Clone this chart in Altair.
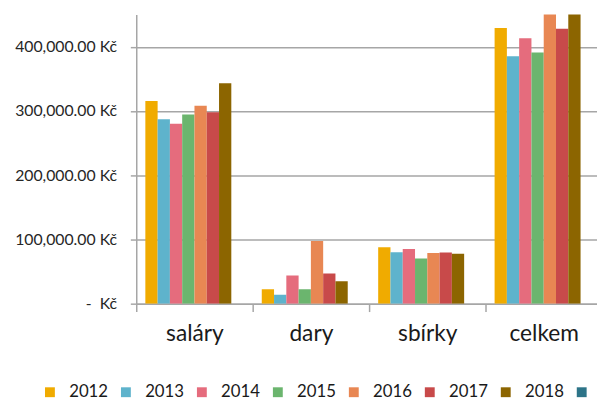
import altair as alt
import pandas as pd

categories = ["saláry", "dary", "sbírky", "celkem"]
years = ["2012", "2013", "2014", "2015", "2016", "2017", "2018"]
legend_domain = years + ["2019"]

v2012 = [315500, 22500, 88000, 429000]
v2013 = [287000, 13800, 80000, 385000]
v2014 = [280000, 44000, 85000, 413000]
v2015 = [294500, 22500, 70400, 391000]
v2016 = [308000, 97500, 79000, 485000]
v2017 = [298000, 47000, 79500, 428000]
v2018 = [343000, 35000, 77600, 456000]
series = [v2012, v2013, v2014, v2015, v2016, v2017, v2018]

colors = ["#F0AB00", "#5EB3CC", "#E56C7D", "#6BB56E", "#E88753", "#C84A4A", "#8C6500", "#2D7488"]

rows = []
for y, vals in zip(years, series):
    for c, v in zip(categories, vals):
        rows.append({"kategorie": c, "rok": y, "hodnota": v})
df = pd.DataFrame(rows)

FONT = "Lato"

chart = alt.Chart(df).mark_bar(clip=True).encode(
    x=alt.X("kategorie:N", sort=categories,
            scale=alt.Scale(domain=categories, range=[0, 472], paddingInner=0, paddingOuter=0),
            axis=alt.Axis(title=None, labelAngle=0, tickBand="extent", tickSize=8,
                          labelPadding=11, labelFontSize=23, labelColor="#1a1a1a",
                          labelFont=FONT, domainColor="#A6A6A6", tickColor="#A6A6A6",
                          domainWidth=1.5, tickWidth=1.5, grid=False)),
    xOffset=alt.XOffset("rok:N", scale=alt.Scale(domain=legend_domain, paddingOuter=0.74, paddingInner=0)),
    y=alt.Y("hodnota:Q", scale=alt.Scale(domain=[0, 450000], nice=False),
            axis=alt.Axis(title=None, values=[0, 100000, 200000, 300000, 400000],
                          labelExpr="datum.value == 0 ? '-\u00a0\u00a0Kč' : format(datum.value, ',.2f') + ' Kč'",
                          labelFontSize=16, labelFont=FONT, labelColor="#262626",
                          tickSize=6, labelPadding=14, tickColor="#A6A6A6", domainColor="#A6A6A6",
                          domainWidth=1.5, tickWidth=1.5,
                          gridColor="#A6A6A6", gridWidth=1.5)),
    color=alt.Color("rok:N", scale=alt.Scale(domain=legend_domain, range=colors),
                    legend=alt.Legend(title=None, orient="none", legendX=-96, legendY=374,
                                      direction="horizontal", symbolType="square", symbolSize=100,
                                      symbolStrokeWidth=0, labelFontSize=17, labelFont=FONT,
                                      labelColor="#1a1a1a", labelOffset=11, columnPadding=9,
                                      padding=0,
                                      labelExpr="datum.label == '2019' ? '' : datum.label")),
).properties(
    width=467,
    height=293,
    autosize="none",
    padding={"left": 130, "top": 4, "right": 0, "bottom": 100},
).configure_view(strokeWidth=0)

chart.save("out.html", embed_options={"renderer": "svg", "actions": False})
